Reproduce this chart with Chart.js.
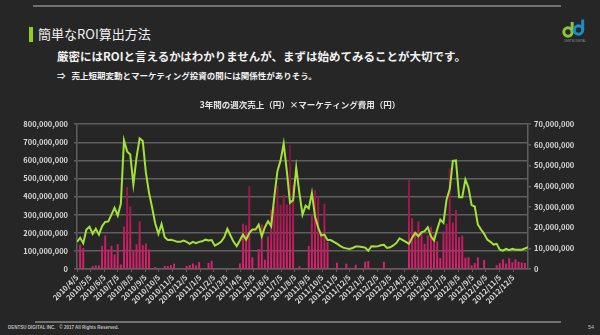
<!DOCTYPE html>
<html lang="ja">
<head>
<meta charset="utf-8">
<script src="https://cdn.jsdelivr.net/npm/chart.js@4.4.1/dist/chart.umd.min.js"></script>
<style>
  body { margin: 0; background: #262626; }
  .slide {
    position: relative; width: 600px; height: 335px; overflow: hidden;
    background: #262626; color: #f2f2f2;
    font-family: "Noto Sans CJK JP", "Noto Sans", sans-serif;
  }
  .rule { position: absolute; height: 2px; background: #707070; }
  .mark { position: absolute; left: 29px; top: 27px; width: 4px; height: 15px; background: #8ed21c; }
  .title { position: absolute; left: 38px; top: 24px; font-size: 13px; line-height: 20px; white-space: nowrap; }
  .lead { position: absolute; left: 57px; top: 48px; font-size: 11.5px; font-weight: bold; line-height: 16px; white-space: nowrap; }
  .note { position: absolute; left: 57px; top: 69px; font-size: 8.5px; font-weight: bold; line-height: 12px; white-space: nowrap; }
  .note span { margin-left: 6px; }
  .foot { position: absolute; left: 8px; top: 325px; font-size: 4.5px; font-weight: bold; color: #bfbfbf; white-space: nowrap; font-family: "Liberation Sans", Arial, sans-serif; }
  .page { position: absolute; left: 588px; top: 324px; font-size: 5.5px; color: #bfbfbf; font-family: "Liberation Sans", Arial, sans-serif; }
  .logo { position: absolute; left: 560px; top: 18px; }
  .chart { position: absolute; left: 0; top: 92px; width: 600px; height: 218px; }
</style>
</head>
<body>
<div class="slide">
  <div class="rule" style="left:33px; top:5px; width:528px;"></div>
  <div class="mark"></div>
  <div class="title">簡単なROI算出方法</div>
  <div class="lead">厳密にはROIと言えるかはわかりませんが、まずは始めてみることが大切です。</div>
  <div class="note">⇒<span>売上短期変動とマーケティング投資の間には関係性がありそう。</span></div>
  <svg class="logo" width="30" height="26" viewBox="0 0 30 26">
    <circle cx="8" cy="14" r="4.2" fill="none" stroke="#8cc63f" stroke-width="3"/>
    <path d="M12.2 14 V4" stroke="#8cc63f" stroke-width="3" fill="none"/>
    <circle cx="18.5" cy="12" r="4.2" fill="none" stroke="#1a8ccb" stroke-width="3"/>
    <path d="M22.7 12 V1.5" stroke="#1a8ccb" stroke-width="3" fill="none"/>
    <text x="15" y="23.5" font-size="2.6" fill="#9a9a9a" text-anchor="middle" font-family="Liberation Sans, Arial">DENTSU DIGITAL</text>
  </svg>
  <div class="chart"><canvas id="roiChart"></canvas></div>
  <div class="rule" style="left:35px; top:321px; width:526px;"></div>
  <div class="foot">DENTSU DIGITAL INC.&nbsp;&nbsp;&nbsp;© 2017 All Rights Reserved.</div>
  <div class="page">54</div>
</div>

<script>
// weekly series, first week 2010/4/5, values in million yen
const firstWeek = '2010/4/5';

// weekly sales (left axis)
const salesMillion = [
  150, 172, 142, 218, 234, 194, 222, 190, 236, 260,
  263, 300, 338, 295, 360, 711, 650, 633, 467, 615,
  722, 707, 532, 421, 338, 250, 194, 249, 175, 160,
  162, 157, 150, 150, 157, 150, 139, 150, 143, 150,
  153, 162, 157, 160, 129, 139, 150, 175, 222, 185,
  150, 126, 157, 190, 162, 199, 218, 218, 245, 181,
  231, 264, 236, 400, 541, 600, 693, 541, 366, 380,
  560, 420, 300, 350, 335, 420, 290, 230, 185, 190,
  160, 160, 150, 140, 128, 118, 114, 111, 116, 124,
  124, 122, 118, 101, 126, 124, 125, 131, 134, 116,
  120, 130, 144, 170, 160, 150, 139, 172, 199, 181,
  203, 209, 231, 181, 157, 218, 273, 255, 384, 440,
  597, 600, 397, 397, 495, 449, 353, 345, 245, 218,
  194, 162, 150, 135, 139, 107, 101, 111, 104, 111,
  107, 107, 107, 113, 120
];

// weekly marketing spend (right axis)
const marketingMillion = [
  0, 11.7, 10, 0, 0, 1.2, 1.5, 1.5, 11.1, 16,
  9.3, 11.1, 6.9, 11.8, 2, 20.4, 39.5, 30, 8.4, 11.8,
  22.9, 11.4, 12.2, 9.3, 0, 0.8, 0, 0, 1.3, 1.3,
  1.7, 2.4, 0, 0, 0, 1.3, 1.8, 2.5, 1.5, 3.2,
  0, 0, 2.8, 3.8, 0, 0, 0, 0, 0, 0,
  0, 0, 2.5, 21.7, 21, 39.8, 5.5, 0, 9.5, 21.3,
  4.3, 15.6, 28.5, 30, 39.8, 30.9, 35.7, 31, 59.9, 40.6,
  0, 1.2, 0, 0, 11, 26, 38, 35, 15.8, 31.4,
  13, 0, 0, 2.9, 0, 0, 2.4, 0.5, 0, 1.9,
  0, 0, 3.4, 3.7, 0, 0, 0, 0, 3.4, 0,
  0, 0, 0, 0, 0, 0, 43, 24.5, 18, 22.9,
  18, 12, 16, 20.4, 16.4, 13.2, 5.2, 18, 21.7, 48.5,
  22.3, 28.4, 15.3, 16, 5.3, 5.5, 1.6, 2.7, 5.5, 0,
  4.2, 0, 0, 0, 1.6, 2.6, 4.5, 2.5, 5, 3.1,
  4.5, 3.4, 3, 2.7, 0
];

// month tick labels along the x axis
const monthLabels = [
  '2010/4/5', '2010/5/5', '2010/6/5', '2010/7/5', '2010/8/5', '2010/9/5',
  '2010/10/5', '2010/11/5', '2010/12/5', '2011/1/5', '2011/2/5', '2011/3/5',
  '2011/4/5', '2011/5/5', '2011/6/5', '2011/7/5', '2011/8/5', '2011/9/5',
  '2011/10/5', '2011/11/5', '2011/12/5', '2012/1/5', '2012/2/5', '2012/3/5',
  '2012/4/5', '2012/5/5', '2012/6/5', '2012/7/5', '2012/8/5', '2012/9/5',
  '2012/10/5', '2012/11/5', '2012/12/5'
];

const leftTicks = [0, 100, 200, 300, 400, 500, 600, 700, 800];
const rightTicks = [0, 10, 20, 30, 40, 50, 60, 70];

// days since the first week, used as the x value
function dayOf(str) {
  const p = str.split('/').map(Number);
  const f = firstWeek.split('/').map(Number);
  return Math.round((Date.UTC(p[0], p[1] - 1, p[2]) - Date.UTC(f[0], f[1] - 1, f[2])) / 86400000);
}
const monthDays = monthLabels.map(dayOf);

const salesPoints = salesMillion.map((v, i) => ({ x: i * 7, y: v * 1e6 }));
const marketingPoints = marketingMillion.map((v, i) => ({ x: i * 7, y: v * 1e6 }));

const tickFont = { family: "'Noto Sans CJK JP', sans-serif", size: 7.5, weight: 'bold' };
const gridColor = '#5e5e5e';
const labelColor = '#d9d9d9';

let barGradient = null;
function barColor(ctx) {
  const area = ctx.chart.chartArea;
  if (!area) return '#c81b60';
  if (!barGradient) {
    barGradient = ctx.chart.ctx.createLinearGradient(0, area.bottom, 0, area.top);
    barGradient.addColorStop(0, '#dc2270');
    barGradient.addColorStop(0.4, '#a8174f');
    barGradient.addColorStop(1, '#6e1038');
  }
  return barGradient;
}

new Chart(document.getElementById('roiChart'), {
  type: 'bar',
  data: {
    datasets: [
      {
        type: 'line',
        label: '週次売上（円）',
        data: salesPoints,
        yAxisID: 'y',
        borderColor: '#a3e336',
        borderWidth: 2,
        pointRadius: 0,
        tension: 0,
        order: 0
      },
      {
        type: 'bar',
        label: 'マーケティング費用（円）',
        data: marketingPoints,
        yAxisID: 'y1',
        backgroundColor: barColor,
        barThickness: 1.3,
        order: 1
      }
    ]
  },
  options: {
    responsive: true,
    maintainAspectRatio: false,
    animation: false,
    layout: { padding: 0 },
    plugins: {
      legend: { display: false },
      tooltip: { enabled: false },
      title: {
        display: true,
        text: '3年間の週次売上（円）×マーケティング費用（円）',
        color: '#e6e6e6',
        font: { family: "'Noto Sans CJK JP', sans-serif", size: 8.5, weight: 'bold' },
        padding: { top: 8, bottom: 14 }
      }
    },
    scales: {
      x: {
        type: 'linear',
        min: 0,
        max: (salesMillion.length - 1) * 7,
        offset: false,
        grid: { display: true, drawOnChartArea: false, drawTicks: true, tickLength: 3, color: gridColor, offset: false },
        border: { display: true, color: gridColor, width: 1.5 },
        afterBuildTicks: scale => { scale.ticks = monthDays.map(v => ({ value: v })); },
        afterFit: scale => { scale.height = 41; },
        ticks: {
          autoSkip: false,
          minRotation: 45,
          maxRotation: 45,
          padding: 1,
          color: labelColor,
          font: tickFont,
          callback: (value, index) => monthLabels[index]
        }
      },
      y: {
        position: 'left',
        min: 0,
        max: 800e6,
        afterBuildTicks: scale => { scale.ticks = leftTicks.map(v => ({ value: v * 1e6 })); },
        afterFit: scale => { scale.width = 77; },
        grid: { color: gridColor, lineWidth: 1.5, tickLength: 3 },
        border: { display: true, color: gridColor, width: 1.5 },
        ticks: {
          color: labelColor,
          font: tickFont,
          padding: 6,
          callback: v => v.toLocaleString('en-US')
        }
      },
      y1: {
        position: 'right',
        min: 0,
        max: 70e6,
        afterBuildTicks: scale => { scale.ticks = rightTicks.map(v => ({ value: v * 1e6 })); },
        afterFit: scale => { scale.width = 72; },
        grid: { drawOnChartArea: false, drawTicks: true, tickLength: 3, color: gridColor, lineWidth: 1.5 },
        border: { display: true, color: gridColor, width: 1.5 },
        ticks: {
          color: labelColor,
          font: tickFont,
          padding: 3,
          callback: v => v.toLocaleString('en-US')
        }
      }
    }
  }
});
</script>
</body>
</html>
